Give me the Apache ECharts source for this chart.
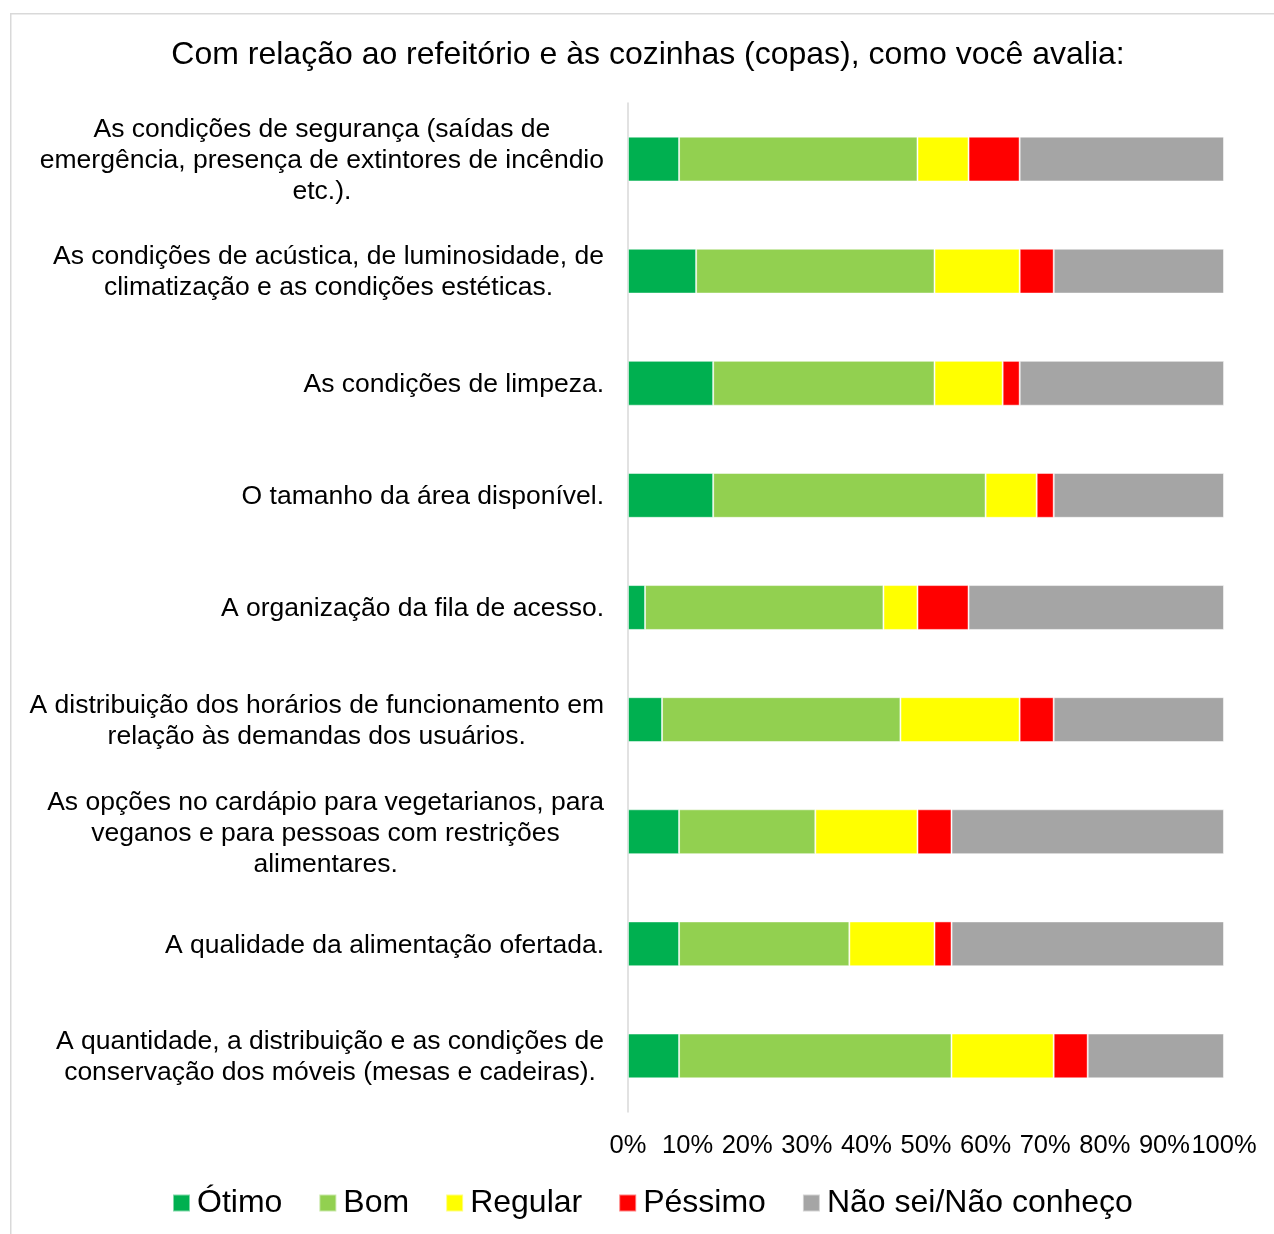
<!DOCTYPE html>
<html>
<head>
<meta charset="utf-8">
<script src="https://cdn.jsdelivr.net/npm/echarts@6/dist/echarts.min.js"></script>
<style>html,body{margin:0;padding:0;background:#fff}#c{width:1274px;height:1234px}</style>
</head>
<body>
<div id="c"></div>
<script>
const titleText = 'Com relação ao refeitório e às cozinhas (copas), como você avalia:';
const categories = [
  'As condições de segurança (saídas de\nemergência, presença de extintores de incêndio\netc.).',
  'As condições de acústica, de luminosidade, de\nclimatização e as condições estéticas.',
  'As condições de limpeza.',
  'O tamanho da área disponível.',
  'A organização da fila de acesso.',
  'A distribuição dos horários de funcionamento em\nrelação às demandas dos usuários.',
  'As opções no cardápio para vegetarianos, para\nveganos e para pessoas com restrições\nalimentares.',
  'A qualidade da alimentação ofertada.',
  'A quantidade, a distribuição e as condições de\nconservação dos móveis (mesas e cadeiras).'
];
const seriesNames = ['Ótimo', 'Bom', 'Regular', 'Péssimo', 'Não sei/Não conheço'];
const colors = ['#00B050', '#92D050', '#FFFF00', '#FF0000', '#A5A5A5'];
// percentages
const otimo   = [8.57, 11.43, 14.29, 14.29, 2.86, 5.71, 8.57, 8.57, 8.57];
const bom     = [40.00, 40.00, 37.14, 45.71, 40.00, 40.00, 22.86, 28.57, 45.71];
const regular = [8.57, 14.29, 11.43, 8.57, 5.71, 20.00, 17.14, 14.29, 17.14];
const pessimo = [8.57, 5.71, 2.86, 2.86, 8.57, 5.71, 5.71, 2.86, 5.71];
const naoSei  = [34.29, 28.57, 34.29, 28.57, 42.86, 28.57, 45.71, 45.71, 22.86];
const xTicks = [0, 10, 20, 30, 40, 50, 60, 70, 80, 90, 100];

const values = [otimo, bom, regular, pessimo, naoSei];
const font = '"Liberation Sans", Arial, sans-serif';

const chart = echarts.init(document.getElementById('c'));
chart.setOption({
  animation: false,
  backgroundColor: '#fff',
  textStyle: { fontFamily: font },
  graphic: [{
    type: 'rect', left: 10, top: 13, z: -10,
    shape: { width: 1400, height: 1400 },
    style: { fill: '#fff', stroke: '#D9D9D9', lineWidth: 1.5 }
  }],
  title: {
    text: titleText, left: 643, top: 34, textAlign: 'center',
    textStyle: { fontFamily: font, fontSize: 32, fontWeight: 'normal', color: '#000' }
  },
  legend: {
    bottom: 15, left: 172, padding: 0,
    itemWidth: 17, itemHeight: 17, itemGap: 36,
    icon: 'rect',
    textStyle: { fontFamily: font, fontSize: 32, color: '#000', padding: [0, 0, 0, 2] },
    data: seriesNames
  },
  grid: { left: 628, right: 50, top: 103, bottom: 122, containLabel: false },
  xAxis: {
    type: 'value', min: 0, max: 100, interval: 10,
    axisLine: { show: false }, axisTick: { show: false }, splitLine: { show: false },
    axisLabel: { formatter: v => v + '%', fontFamily: font, fontSize: 25.5, color: '#000', margin: 21 }
  },
  yAxis: {
    type: 'category', inverse: true, data: categories,
    axisLine: { show: true, lineStyle: { color: '#D9D9D9', width: 1.5 } },
    axisTick: { show: false },
    axisLabel: {
      margin: 24, color: '#000',
      formatter: v => v.split('\n').map(l => '{c|' + l + '}').join('\n'),
      rich: { c: { align: 'center', fontFamily: font, fontSize: 26.5, lineHeight: 31, color: '#000', padding: [3, 0, 0, 0] } }
    }
  },
  series: seriesNames.map((n, i) => ({
    name: n, type: 'bar', stack: 'total', data: values[i],
    barCategoryGap: '60%',
    itemStyle: { color: colors[i], borderColor: 'rgba(255,255,255,0.5)', borderWidth: 1 }
  }))
});
</script>
</body>
</html>
